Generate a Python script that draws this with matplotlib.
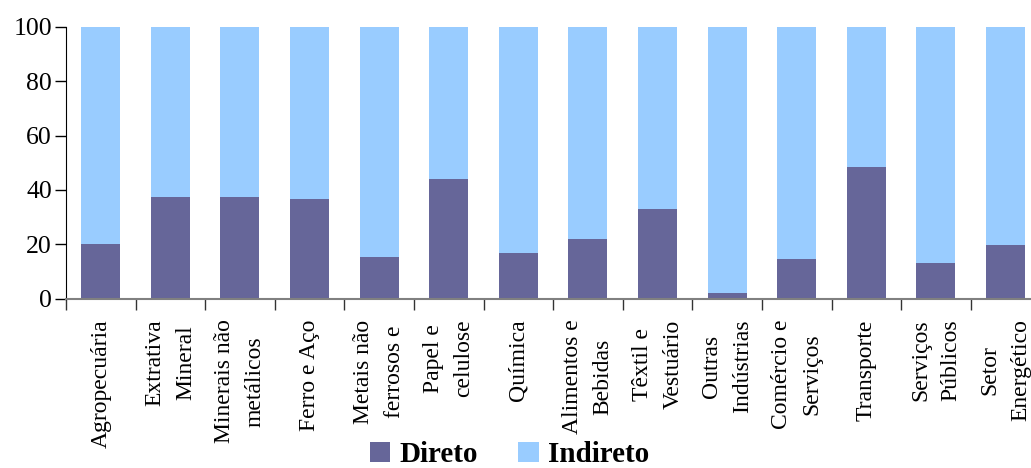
import matplotlib
matplotlib.use('Agg')
import matplotlib.pyplot as plt
import numpy as np

plt.rcParams['font.family'] = ['Liberation Serif', 'DejaVu Serif']

setores = ['Agropecuária', 'Extrativa\nMineral', 'Minerais não\nmetálicos', 'Ferro e Aço',
           'Metais não\nferrosos e', 'Papel e\ncelulose', 'Química', 'Alimentos e\nBebidas',
           'Têxtil e\nVestuário', 'Outras\nIndústrias', 'Comércio e\nServiços', 'Transporte',
           'Serviços\nPúblicos', 'Setor\nEnergético']
direto = [20, 37.5, 37.5, 36.8, 15.4, 44.1, 16.9, 22.0, 33.0, 2.1, 14.6, 48.5, 13.1, 19.9]
indireto = [100 - d for d in direto]

cor_direto = '#666699'
cor_indireto = '#99CCFF'

fig = plt.figure(figsize=(10.31, 4.68), dpi=100)
ax = fig.add_axes([0.064, 0.3618, 0.945, 0.5806])

x = np.arange(len(setores))
ax.bar(x, direto, width=0.56, color=cor_direto, label='Direto')
ax.bar(x, indireto, width=0.56, bottom=direto, color=cor_indireto, label='Indireto')

ax.set_xlim(-0.5, len(setores) - 0.5)
ax.set_ylim(0, 100)
ax.set_yticks(range(0, 101, 20))
ax.tick_params(axis='y', labelsize=18.5, length=8, width=1, direction='out', pad=2)

ax.set_xticks(x)
ax.set_xticklabels(setores, rotation=90, fontsize=17, ha='center', va='top',
                   multialignment='center', linespacing=1.6)
ax.tick_params(axis='x', which='major', length=0, pad=15)
ax.set_xticks(np.arange(-0.5, len(setores) - 0.5, 1), minor=True)
ax.tick_params(axis='x', which='minor', length=8, width=1, direction='out', color='#333333')

for s in ['top', 'right']:
    ax.spines[s].set_visible(False)
ax.spines['bottom'].set_color('#808080')
ax.spines['bottom'].set_linewidth(1.5)
ax.spines['left'].set_color('black')

fig.legend(loc='center', bbox_to_anchor=(0.494, 0.028), ncol=2, frameon=False,
           prop={'weight': 'bold', 'size': 21}, handlelength=0.7, handleheight=0.7,
           handletextpad=0.3, columnspacing=1.4, borderpad=0.1)

fig.savefig('out.png', dpi=100)
